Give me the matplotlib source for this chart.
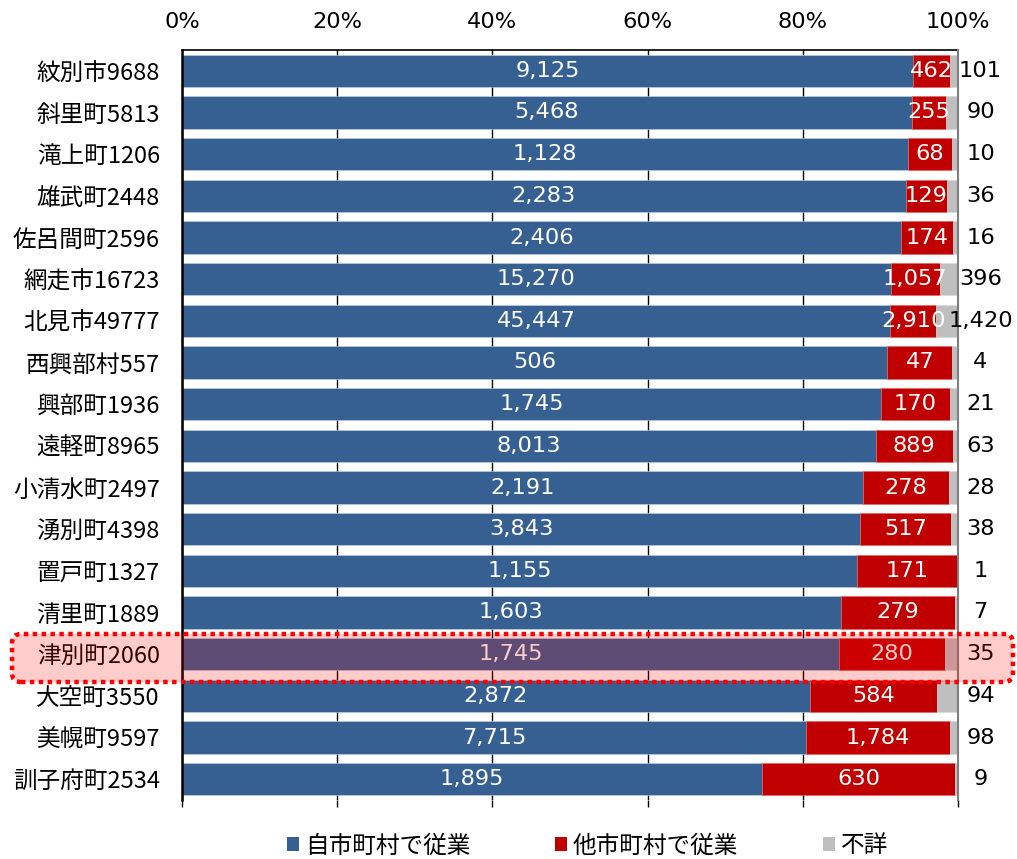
import matplotlib
matplotlib.use("Agg")
import matplotlib.pyplot as plt
import numpy as np
from matplotlib.patches import FancyBboxPatch, Patch
from matplotlib.transforms import IdentityTransform

categories = ["紋別市9688", "斜里町5813", "滝上町1206", "雄武町2448", "佐呂間町2596",
              "網走市16723", "北見市49777", "西興部村557", "興部町1936", "遠軽町8965",
              "小清水町2497", "湧別町4398", "置戸町1327", "清里町1889", "津別町2060",
              "大空町3550", "美幌町9597", "訓子府町2534"]
own = [9125, 5468, 1128, 2283, 2406, 15270, 45447, 506, 1745, 8013,
       2191, 3843, 1155, 1603, 1745, 2872, 7715, 1895]
other = [462, 255, 68, 129, 174, 1057, 2910, 47, 170, 889,
         278, 517, 171, 279, 280, 584, 1784, 630]
unknown = [101, 90, 10, 36, 16, 396, 1420, 4, 21, 63,
           28, 38, 1, 7, 35, 94, 98, 9]
series_names = ["自市町村で従業", "他市町村で従業", "不詳"]
xticks = [0, 0.2, 0.4, 0.6, 0.8, 1.0]
xtick_labels = ["0%", "20%", "40%", "60%", "80%", "100%"]
highlight = "津別町2060"

C_BLUE = "#376092"
C_RED = "#C00000"
C_GRAY = "#BFBFBF"

JP = ["Noto Sans CJK JP", "DejaVu Sans"]
NUM = ["DejaVu Sans"]
FS = 16.2
FS_JP = 17

W, H = 1017, 859
fig = plt.figure(figsize=(W / 100, H / 100), dpi=100)
ax = fig.add_axes([182 / W, 1 - 800 / H, (958 - 182) / W, 750 / H])

own_a = np.array(own, float)
oth_a = np.array(other, float)
unk_a = np.array(unknown, float)
tot = own_a + oth_a + unk_a
f_own = own_a / tot
f_oth = oth_a / tot
f_unk = unk_a / tot
y = np.arange(len(categories))
bh = 0.78

ax.barh(y, f_own, height=bh, color=C_BLUE, edgecolor="#c8d4e4", linewidth=0.4, zorder=2)
ax.barh(y, f_oth, left=f_own, height=bh, color=C_RED, edgecolor="#e06060", linewidth=0.4, zorder=2)
ax.barh(y, f_unk, left=f_own + f_oth, height=bh, color=C_GRAY, edgecolor="#d8d8d8", linewidth=0.4, zorder=2)

for i in range(len(categories)):
    ax.text(f_own[i] / 2, y[i], f"{own[i]:,}", color="white", ha="center", va="center",
            fontsize=FS, family=NUM, zorder=4)
    ax.text(f_own[i] + f_oth[i] / 2, y[i], f"{other[i]:,}", color="white", ha="center",
            va="center", fontsize=FS, family=NUM, zorder=4)
    ax.text(1.029, y[i], f"{unknown[i]:,}", color="black", ha="center", va="center",
            fontsize=FS, family=NUM, zorder=4, clip_on=False)

ax.set_xlim(0, 1)
ax.set_ylim(len(categories) - 0.5, -0.5)
ax.set_xticks(xticks)
ax.set_xticklabels(xtick_labels, fontsize=FS, family=NUM)
ax.set_yticks(y)
ax.set_yticklabels(categories, fontsize=FS_JP, family=JP)
ax.tick_params(axis="y", length=0, pad=16)
ax.tick_params(axis="x", top=False, bottom=True, labeltop=True, labelbottom=False,
               direction="out", length=5, width=1, color="black", pad=8)
ax.grid(axis="x", color="black", linewidth=1)
ax.set_axisbelow(True)
ax.spines["bottom"].set_visible(False)
ax.spines["left"].set_linewidth(1.8)
ax.spines["left"].set_color("black")
ax.spines["top"].set_linewidth(1.2)
ax.spines["top"].set_color("black")
ax.spines["right"].set_linewidth(1.5)
ax.spines["right"].set_color("#7f7f7f")
ax.spines["right"].set_zorder(3)

# legend
handles = [Patch(facecolor=c, edgecolor="none") for c in (C_BLUE, C_RED, C_GRAY)]
fig.legend(handles, series_names, loc="center", bbox_to_anchor=(0.578, 1 - 846 / H),
           ncol=3, frameon=False, prop={"family": JP, "size": FS_JP},
           handlelength=0.5, handleheight=0.5, handletextpad=0.25, columnspacing=3.6)

# highlight box for 津別町
hi = categories.index(highlight)
box = FancyBboxPatch((12, H - 682), 1001, 48, boxstyle="round,pad=0,rounding_size=9",
                     transform=IdentityTransform(), facecolor=(1, 0, 0, 0.2),
                     edgecolor="#FF0000", linewidth=3.2, linestyle=(0, (1, 1)), zorder=5)
fig.patches.append(box)

fig.savefig("out.png", dpi=100)
